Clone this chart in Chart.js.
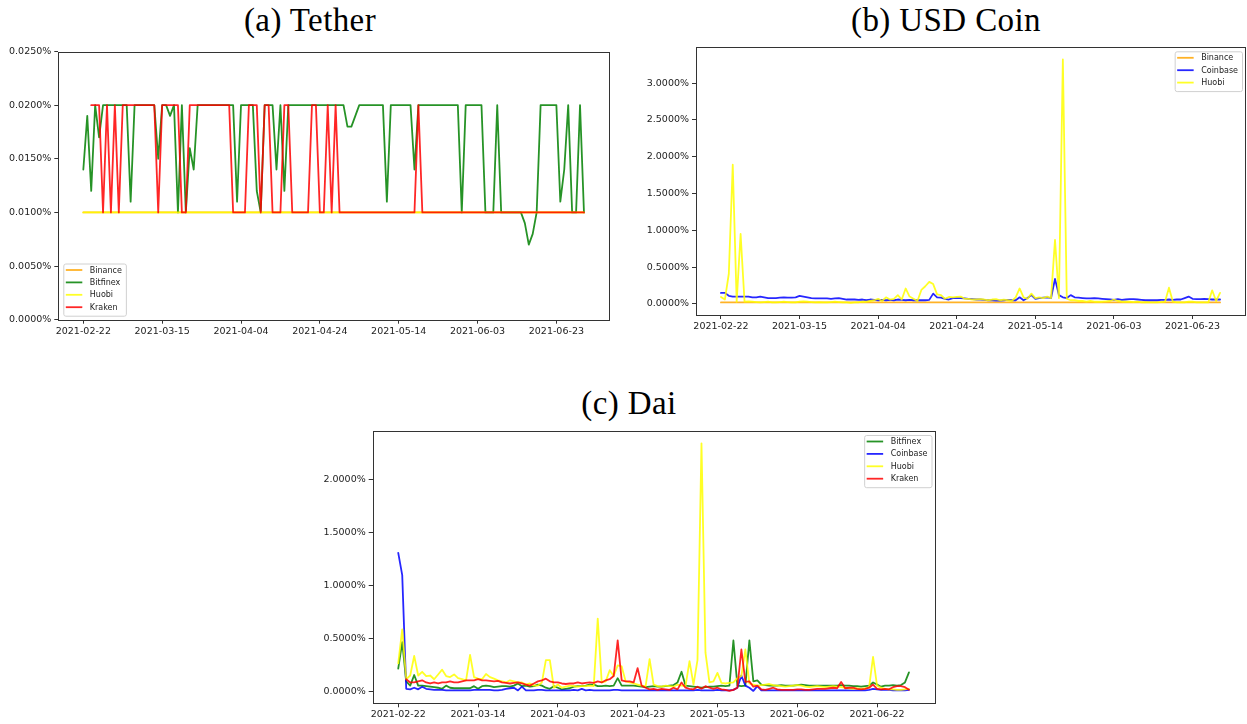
<!DOCTYPE html>
<html>
<head>
<meta charset="utf-8">
<script src="https://cdn.jsdelivr.net/npm/chart.js@4.4.1/dist/chart.umd.min.js"></script>
<style>
  body { margin: 0; background: #fff; width: 1247px; height: 724px; position: relative; overflow: hidden; }
  .titulo { position: absolute; font-family: "Liberation Serif", serif; font-size: 33px; letter-spacing: 0.4px;
            line-height: 33px; color: #000; white-space: nowrap; transform: translateX(-50%); }
  canvas { position: absolute; }
</style>
</head>
<body>
<div class="titulo" style="left:310px;top:4px">(a) Tether</div>
<div class="titulo" style="left:946px;top:4px">(b) USD Coin</div>
<div class="titulo" style="left:629px;top:387px">(c) Dai</div>

<canvas id="graficoTether" width="620" height="300" style="left:0;top:40px"></canvas>
<canvas id="graficoUsdc" width="617" height="300" style="left:630px;top:37px"></canvas>
<canvas id="graficoDai" width="630" height="303" style="left:310px;top:421px"></canvas>

<script>
// posicoes (em dias desde 2021-02-22) dos rotulos do eixo x
const posicoesTicksX = [0, 20, 40, 60, 80, 100, 120];
const rotulosTether = ['2021-02-22', '2021-03-15', '2021-04-04', '2021-04-24', '2021-05-14', '2021-06-03', '2021-06-23'];
const rotulosUsdc = ['2021-02-22', '2021-03-15', '2021-04-04', '2021-04-24', '2021-05-14', '2021-06-03', '2021-06-23'];
const rotulosDai = ['2021-02-22', '2021-03-14', '2021-04-03', '2021-04-23', '2021-05-13', '2021-06-02', '2021-06-22'];

const ticksYTether = [0, 0.005, 0.01, 0.015, 0.02, 0.025];
const ticksYUsdc = [0, 0.5, 1.0, 1.5, 2.0, 2.5, 3.0];
const ticksYDai = [0, 0.5, 1.0, 1.5, 2.0];

// taxas em %
const tetherBinance = [
  0.01,0.01,0.01,0.01,0.01,0.01,0.01,0.01,0.01,0.01,
  0.01,0.01,0.01,0.01,0.01,0.01,0.01,0.01,0.01,0.01,
  0.01,0.01,0.01,0.01,0.01,0.01,0.01,0.01,0.01,0.01,
  0.01,0.01,0.01,0.01,0.01,0.01,0.01,0.01,0.01,0.01,
  0.01,0.01,0.01,0.01,0.01,0.01,0.01,0.01,0.01,0.01,
  0.01,0.01,0.01,0.01,0.01,0.01,0.01,0.01,0.01,0.01,
  0.01,0.01,0.01,0.01,0.01,0.01,0.01,0.01,0.01,0.01,
  0.01,0.01,0.01,0.01,0.01,0.01,0.01,0.01,0.01,0.01,
  0.01,0.01,0.01,0.01,0.01,0.01,0.01,0.01,0.01,0.01,
  0.01,0.01,0.01,0.01,0.01,0.01,0.01,0.01,0.01,0.01,
  0.01,0.01,0.01,0.01,0.01,0.01,0.01,0.01,0.01,0.01,
  0.01,0.01,0.01,0.01,0.01,0.01,0.01,0.01,0.01,0.01,
  0.01,0.01,0.01,0.01,0.01,0.01,0.01,0.01
];
const tetherBitfinex = [
  0.014,0.019,0.012,0.02,0.017,0.02,0.02,0.02,0.02,0.02,
  0.02,0.02,0.011,0.02,0.02,0.02,0.02,0.02,0.02,0.015,
  0.02,0.02,0.019,0.02,0.01,0.02,0.01,0.016,0.014,0.02,
  0.02,0.02,0.02,0.02,0.02,0.02,0.02,0.02,0.02,0.011,
  0.02,0.02,0.02,0.02,0.012,0.01,0.02,0.02,0.02,0.014,
  0.02,0.012,0.02,0.02,0.02,0.02,0.02,0.02,0.02,0.02,
  0.02,0.02,0.02,0.02,0.02,0.02,0.02,0.018,0.018,0.019,
  0.02,0.02,0.02,0.02,0.02,0.02,0.02,0.011,0.02,0.02,
  0.02,0.02,0.02,0.02,0.014,0.02,0.02,0.02,0.02,0.02,
  0.02,0.02,0.02,0.02,0.02,0.02,0.01,0.02,0.02,0.02,
  0.02,0.02,0.01,0.01,0.01,0.02,0.01,0.01,0.01,0.01,
  0.01,0.01,0.009,0.007,0.008,0.01,0.02,0.02,0.02,0.02,
  0.02,0.011,0.014,0.02,0.01,0.01,0.02,0.01
];
const tetherHuobi = [
  0.01,0.01,0.01,0.01,0.01,0.01,0.01,0.01,0.01,0.01,
  0.01,0.01,0.01,0.01,0.01,0.01,0.01,0.01,0.01,0.01,
  0.01,0.01,0.01,0.01,0.01,0.01,0.01,0.01,0.01,0.01,
  0.01,0.01,0.01,0.01,0.01,0.01,0.01,0.01,0.01,0.01,
  0.01,0.01,0.01,0.01,0.01,0.01,0.01,0.01,0.01,0.01,
  0.01,0.01,0.01,0.01,0.01,0.01,0.01,0.01,0.01,0.01,
  0.01,0.01,0.01,0.01,0.01,0.01,0.01,0.01,0.01,0.01,
  0.01,0.01,0.01,0.01,0.01,0.01,0.01,0.01,0.01,0.01,
  0.01,0.01,0.01,0.01,0.01,0.01,0.01,0.01,0.01,0.01,
  0.01,0.01,0.01,0.01,0.01,0.01,0.01,0.01,0.01,0.01,
  0.01,0.01,0.01,0.01,0.01,0.01,0.01,0.01,0.01,0.01,
  0.01,0.01,0.01,0.01,0.01,0.01,0.01,0.01,0.01,0.01,
  0.01,0.01,0.01,0.01,0.01,0.01,0.01,0.01
];
const tetherKraken = [
  null,null,0.02,0.02,0.02,0.01,0.02,0.01,0.02,0.01,
  0.02,0.02,0.02,0.02,0.02,0.02,0.02,0.02,0.02,0.01,
  0.02,0.02,0.02,0.02,0.02,0.01,0.01,0.02,0.02,0.02,
  0.02,0.02,0.02,0.02,0.02,0.02,0.02,0.02,0.01,0.01,
  0.01,0.01,0.02,0.02,0.02,0.01,0.02,0.02,0.01,0.01,
  0.01,0.02,0.02,0.01,0.01,0.01,0.01,0.01,0.02,0.02,
  0.01,0.01,0.02,0.01,0.02,0.01,0.01,0.01,0.01,0.01,
  0.01,0.01,0.01,0.01,0.01,0.01,0.01,0.01,0.01,0.01,
  0.01,0.01,0.01,0.01,0.01,0.02,0.01,0.01,0.01,0.01,
  0.01,0.01,0.01,0.01,0.01,0.01,0.01,0.01,0.01,0.01,
  0.01,0.01,0.01,0.01,0.01,0.01,0.01,0.01,0.01,0.01,
  0.01,0.01,0.01,0.01,0.01,0.01,0.01,0.01,0.01,0.01,
  0.01,0.01,0.01,0.01,0.01,0.01,0.01,0.01
];

const usdcBinance = [
  0.02,0.02,0.02,0.02,0.02,0.02,0.02,0.02,0.02,0.02,
  0.02,0.02,0.02,0.02,0.02,0.02,0.02,0.02,0.02,0.02,
  0.02,0.02,0.02,0.02,0.02,0.02,0.02,0.02,0.02,0.02,
  0.02,0.02,0.02,0.02,0.02,0.02,0.02,0.02,0.02,0.02,
  0.02,0.02,0.02,0.02,0.02,0.02,0.02,0.02,0.02,0.02,
  0.02,0.02,0.02,0.02,0.02,0.02,0.02,0.02,0.02,0.02,
  0.02,0.02,0.02,0.02,0.02,0.02,0.02,0.02,0.02,0.02,
  0.02,0.02,0.02,0.02,0.02,0.02,0.02,0.02,0.02,0.02,
  0.02,0.02,0.02,0.02,0.02,0.02,0.02,0.02,0.02,0.02,
  0.02,0.02,0.02,0.02,0.02,0.02,0.02,0.02,0.02,0.02,
  0.02,0.02,0.02,0.02,0.02,0.02,0.02,0.02,0.02,0.02,
  0.02,0.02,0.02,0.02,0.02,0.02,0.02,0.02,0.02,0.02,
  0.02,0.02,0.02,0.02,0.02,0.02,0.02,0.02
];
const usdcCoinbase = [
  0.15,0.15,0.11,0.10,0.10,0.10,0.10,0.10,0.09,0.09,
  0.10,0.09,0.08,0.08,0.08,0.085,0.09,0.085,0.085,0.09,
  0.11,0.10,0.09,0.08,0.075,0.075,0.075,0.075,0.07,0.075,
  0.08,0.07,0.06,0.06,0.06,0.055,0.06,0.05,0.06,0.055,
  0.05,0.055,0.05,0.055,0.05,0.06,0.055,0.05,0.055,0.05,
  0.05,0.05,0.05,0.055,0.14,0.09,0.085,0.07,0.06,0.08,
  0.08,0.08,0.075,0.07,0.065,0.06,0.06,0.055,0.05,0.05,
  0.045,0.045,0.05,0.055,0.05,0.05,0.09,0.05,0.08,0.12,
  0.07,0.08,0.085,0.09,0.08,0.34,0.12,0.09,0.08,0.12,
  0.09,0.085,0.08,0.075,0.075,0.08,0.075,0.07,0.065,0.06,
  0.055,0.065,0.055,0.06,0.065,0.065,0.06,0.055,0.05,0.05,
  0.05,0.05,0.055,0.055,0.06,0.055,0.06,0.06,0.08,0.10,
  0.07,0.065,0.065,0.07,0.065,0.06,0.06,0.06
];
const usdcHuobi = [
  0.095,0.06,0.41,1.89,0.03,0.95,0.03,0.035,0.03,0.025,
  0.02,0.025,0.03,0.02,0.02,0.025,0.03,0.025,0.02,0.02,
  0.03,0.035,0.03,0.025,0.02,0.025,0.02,0.02,0.025,0.03,
  0.025,0.02,0.02,0.015,0.02,0.02,0.03,0.03,0.04,0.05,
  0.07,0.04,0.09,0.06,0.07,0.12,0.06,0.21,0.10,0.07,
  0.04,0.19,0.24,0.30,0.27,0.13,0.12,0.07,0.095,0.09,
  0.095,0.10,0.07,0.07,0.06,0.06,0.065,0.06,0.05,0.06,
  0.065,0.05,0.06,0.05,0.04,0.09,0.21,0.09,0.07,0.14,
  0.08,0.09,0.08,0.10,0.08,0.87,0.08,3.32,0.07,0.05,
  0.05,0.04,0.04,0.03,0.04,0.03,0.03,0.03,0.035,0.04,
  0.06,0.04,0.03,0.03,0.03,0.025,0.03,0.02,0.025,0.02,
  0.02,0.02,0.025,0.03,0.22,0.03,0.02,0.02,0.02,0.03,
  0.03,0.02,0.02,0.02,0.02,0.185,0.04,0.15
];

const daiBitfinex = [
  0.22,0.47,0.10,0.06,0.16,0.06,0.06,0.055,0.05,0.045,
  0.04,0.03,0.06,0.04,0.035,0.035,0.035,0.035,0.035,0.055,
  0.03,0.055,0.06,0.055,0.045,0.05,0.055,0.055,0.05,0.06,
  0.08,0.055,0.06,0.05,0.055,0.07,0.06,0.04,0.03,0.055,
  0.04,0.025,0.03,0.035,0.05,0.055,0.055,0.06,0.07,0.07,
  0.055,0.055,0.06,0.055,0.06,0.13,0.06,0.06,0.06,0.06,
  0.055,0.05,0.045,0.05,0.055,0.05,0.05,0.055,0.06,0.065,
  0.09,0.19,0.06,0.055,0.05,0.045,0.04,0.045,0.05,0.05,
  0.055,0.06,0.055,0.06,0.485,0.06,0.055,0.06,0.485,0.10,
  0.11,0.07,0.065,0.06,0.06,0.06,0.065,0.06,0.06,0.06,
  0.065,0.07,0.065,0.06,0.06,0.06,0.06,0.06,0.06,0.06,
  0.06,0.065,0.06,0.06,0.055,0.055,0.05,0.055,0.06,0.09,
  0.07,0.05,0.06,0.06,0.065,0.06,0.065,0.09,0.185
];
const daiCoinbase = [
  1.31,1.10,0.03,0.025,0.04,0.025,0.05,0.03,0.025,0.02,
  0.02,0.02,0.015,0.015,0.015,0.015,0.015,0.015,0.015,0.02,
  0.02,0.02,0.02,0.02,0.015,0.015,0.02,0.03,0.035,0.04,
  0.015,0.05,0.015,0.015,0.015,0.02,0.02,0.015,0.015,0.015,
  0.015,0.015,0.015,0.015,0.02,0.015,0.03,0.015,0.02,0.015,
  0.015,0.015,0.015,0.015,0.02,0.02,0.015,0.015,0.015,0.015,
  0.015,0.015,0.015,0.015,0.015,0.015,0.015,0.015,0.015,0.015,
  0.015,0.015,0.015,0.015,0.015,0.02,0.015,0.015,0.015,0.015,
  0.02,0.015,0.015,0.015,0.02,0.04,0.155,0.06,0.04,0.01,
  0.055,0.015,0.015,0.015,0.015,0.015,0.015,0.015,0.015,0.015,
  0.015,0.015,0.015,0.015,0.015,0.015,0.015,0.015,0.015,0.015,
  0.015,0.015,0.015,0.015,0.015,0.015,0.015,0.015,0.02,0.03,
  0.025,0.02,0.02,0.02,0.015,0.015,0.015,0.015,0.02
];
const daiHuobi = [
  0.27,0.59,0.12,0.155,0.34,0.155,0.19,0.15,0.155,0.12,
  0.165,0.21,0.15,0.14,0.165,0.13,0.12,0.11,0.35,0.14,
  0.125,0.12,0.17,0.14,0.125,0.11,0.10,0.09,0.11,0.10,
  0.09,0.09,0.07,0.08,0.06,0.06,0.09,0.30,0.30,0.04,
  0.07,0.04,0.05,0.06,0.055,0.05,0.055,0.055,0.06,0.055,
  0.69,0.09,0.10,0.205,0.15,0.25,0.24,0.10,0.09,0.08,
  0.07,0.06,0.055,0.31,0.07,0.055,0.05,0.06,0.055,0.05,
  0.07,0.06,0.055,0.29,0.07,0.30,2.34,0.37,0.09,0.10,
  0.18,0.085,0.08,0.085,0.09,0.13,0.15,0.40,0.08,0.07,
  0.06,0.065,0.07,0.075,0.065,0.06,0.055,0.05,0.055,0.06,
  0.065,0.06,0.05,0.045,0.05,0.055,0.05,0.045,0.05,0.055,
  0.05,0.045,0.04,0.035,0.03,0.035,0.03,0.035,0.04,0.33,
  0.06,0.04,0.03,0.025,0.025,0.02,0.02,0.025,0.03
];
const daiKraken = [
  null,null,0.12,0.09,0.09,0.10,0.11,0.09,0.08,0.09,
  0.08,0.09,0.09,0.10,0.09,0.09,0.10,0.11,0.11,0.11,
  0.12,0.11,0.11,0.105,0.10,0.105,0.09,0.085,0.08,0.085,
  0.09,0.08,0.07,0.06,0.08,0.10,0.11,0.125,0.10,0.09,
  0.09,0.08,0.075,0.08,0.08,0.09,0.08,0.085,0.09,0.085,
  0.10,0.09,0.11,0.12,0.15,0.485,0.11,0.10,0.10,0.09,
  0.225,0.06,0.04,0.025,0.03,0.02,0.03,0.025,0.02,0.04,
  0.025,0.09,0.04,0.03,0.025,0.05,0.03,0.055,0.04,0.03,
  0.04,0.025,0.02,0.01,0.02,0.04,0.40,0.095,0.10,0.05,
  0.06,0.025,0.02,0.03,0.04,0.025,0.02,0.02,0.02,0.02,
  0.025,0.025,0.02,0.02,0.025,0.03,0.03,0.03,0.035,0.04,
  0.035,0.095,0.035,0.04,0.04,0.03,0.025,0.03,0.04,0.07,
  0.03,0.025,0.03,0.025,0.045,0.055,0.055,0.045,0.02
];

const cores = {
  Binance: 'rgba(255,165,0,0.85)',
  Bitfinex: 'rgba(0,128,0,0.85)',
  Coinbase: 'rgba(0,0,255,0.85)',
  Huobi: 'rgba(255,255,0,0.85)',
  Kraken: 'rgba(255,0,0,0.85)'
};

Chart.defaults.font.family = '"DejaVu Sans", sans-serif';
Chart.defaults.font.size = 9.5;
Chart.defaults.color = '#222';
Chart.defaults.devicePixelRatio = 1;

// moldura completa em volta da area do grafico (estilo matplotlib)
const moldura = {
  id: 'moldura',
  afterDatasetsDraw(chart) {
    const { ctx, chartArea: a } = chart;
    ctx.save();
    ctx.strokeStyle = '#333';
    ctx.lineWidth = 1;
    ctx.strokeRect(Math.round(a.left) + 0.5, Math.round(a.top) + 0.5,
                   Math.round(a.right - a.left), Math.round(a.bottom - a.top));
    ctx.restore();
  }
};

// legenda desenhada dentro da area do grafico
const legendaInterna = {
  id: 'legendaInterna',
  afterDraw(chart, args, opts) {
    const { ctx, chartArea: a } = chart;
    const itens = chart.data.datasets;
    ctx.save();
    ctx.font = '8px "DejaVu Sans"';
    const larguraTexto = Math.max(...itens.map(d => ctx.measureText(d.label).width));
    const w = 26.5 + larguraTexto + 4;
    const h = 6.5 + (itens.length - 1) * 12.4 + 8.5;
    const x = opts.canto === 'inferior-esquerdo' ? a.left + 5 : a.right - 3 - w;
    const y = opts.canto === 'inferior-esquerdo' ? a.bottom - 4 - h : a.top + 4;

    ctx.beginPath();
    ctx.roundRect(x + 0.5, y + 0.5, w, h, 2);
    ctx.fillStyle = 'rgba(255,255,255,0.8)';
    ctx.fill();
    ctx.strokeStyle = '#d0d0d0';
    ctx.lineWidth = 1;
    ctx.stroke();

    ctx.textBaseline = 'middle';
    itens.forEach((d, i) => {
      const yi = y + 6.5 + i * 12.4;
      ctx.beginPath();
      ctx.moveTo(x + 2.5, yi);
      ctx.lineTo(x + 19, yi);
      ctx.strokeStyle = d.borderColor;
      ctx.lineWidth = 1.8;
      ctx.stroke();
      ctx.fillStyle = '#222';
      ctx.fillText(d.label, x + 26.5, yi + 0.5);
    });
    ctx.restore();
  }
};

function limitesY(series) {
  const valores = series.flatMap(s => s.valores).filter(v => v !== null);
  const min = Math.min(...valores);
  const max = Math.max(...valores);
  const margem = (max - min) * 0.05;
  return { min: min - margem, max: max + margem };
}

function criarGrafico(id, series, rotulosX, ticksY, limY, decimais, canto, layout) {
  const n = Math.max(...series.map(s => s.valores.length));
  const margemX = (n - 1) * 0.05;

  const datasets = series.map((s, i) => ({
    label: s.nome,
    data: s.valores.map((v, j) => ({ x: j, y: v })),
    borderColor: cores[s.nome],
    backgroundColor: cores[s.nome],
    borderWidth: 1.8,
    borderJoinStyle: 'round',
    borderCapStyle: 'round',
    pointRadius: 0,
    tension: 0,
    fill: false,
    order: series.length - i
  }));

  const ctx = document.getElementById(id).getContext('2d');
  return new Chart(ctx, {
    type: 'line',
    data: { datasets },
    options: {
      responsive: false,
      animation: false,
      events: [],
      layout: { padding: { left: 0, right: layout.direita, top: layout.topo, bottom: 0 } },
      plugins: {
        legend: { display: false },
        tooltip: { enabled: false },
        legendaInterna: { canto }
      },
      scales: {
        x: {
          type: 'linear',
          min: -margemX,
          max: (n - 1) + margemX,
          afterBuildTicks: escala => { escala.ticks = posicoesTicksX.map(v => ({ value: v })); },
          afterFit: escala => { escala.height = layout.alturaX; },
          ticks: {
            autoSkip: false,
            maxRotation: 0,
            padding: 2,
            callback: valor => rotulosX[posicoesTicksX.indexOf(valor)]
          },
          grid: { drawOnChartArea: false, drawTicks: true, tickLength: 4, color: '#333' },
          border: { display: false }
        },
        y: {
          min: limY.min,
          max: limY.max,
          afterBuildTicks: escala => { escala.ticks = ticksY.map(v => ({ value: v })); },
          afterFit: escala => { escala.width = layout.larguraY; },
          ticks: {
            padding: 3,
            callback: valor => valor.toFixed(decimais) + '%'
          },
          grid: { drawOnChartArea: false, drawTicks: true, tickLength: 4, color: '#333' },
          border: { display: false }
        }
      }
    },
    plugins: [moldura, legendaInterna]
  });
}

const seriesTether = [
  { nome: 'Binance', valores: tetherBinance },
  { nome: 'Bitfinex', valores: tetherBitfinex },
  { nome: 'Huobi', valores: tetherHuobi },
  { nome: 'Kraken', valores: tetherKraken }
];
const seriesUsdc = [
  { nome: 'Binance', valores: usdcBinance },
  { nome: 'Coinbase', valores: usdcCoinbase },
  { nome: 'Huobi', valores: usdcHuobi }
];
const seriesDai = [
  { nome: 'Bitfinex', valores: daiBitfinex },
  { nome: 'Coinbase', valores: daiCoinbase },
  { nome: 'Huobi', valores: daiHuobi },
  { nome: 'Kraken', valores: daiKraken }
];

criarGrafico('graficoTether', seriesTether, rotulosTether, ticksYTether,
  { min: 0, max: 0.025 }, 4, 'inferior-esquerdo',
  { larguraY: 58.3, direita: 11, topo: 11.5, alturaX: 20.3 });

criarGrafico('graficoUsdc', seriesUsdc, rotulosUsdc, ticksYUsdc,
  limitesY(seriesUsdc), 4, 'superior-direito',
  { larguraY: 66, direita: 2, topo: 10.3, alturaX: 22 });

criarGrafico('graficoDai', seriesDai, rotulosDai, ticksYDai,
  limitesY(seriesDai), 4, 'superior-direito',
  { larguraY: 62.7, direita: 5.5, topo: 10, alturaX: 20.7 });
</script>
</body>
</html>
